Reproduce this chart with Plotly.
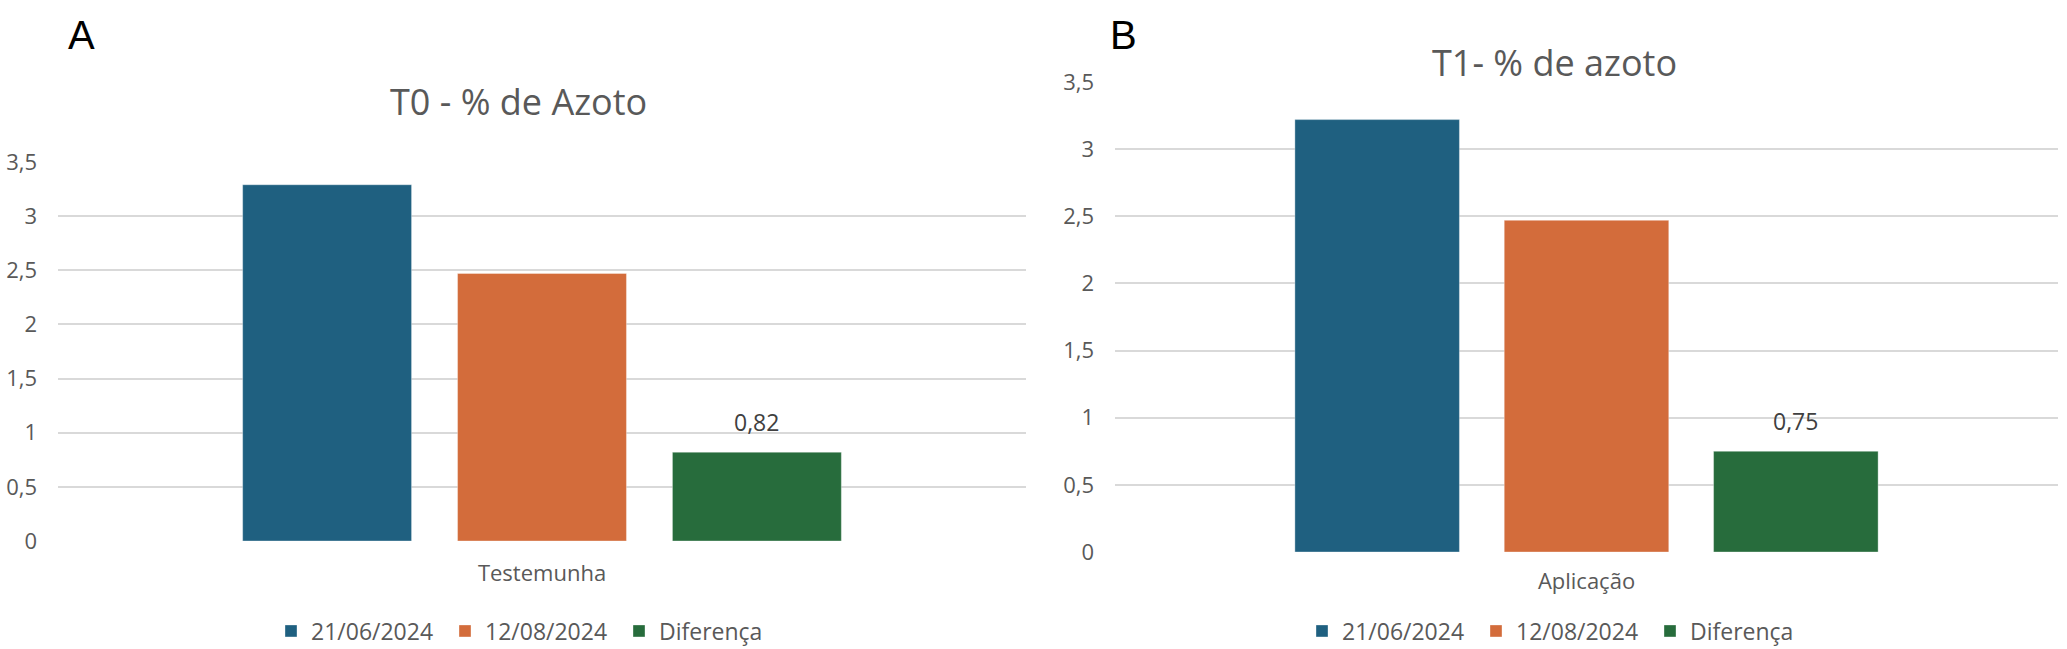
import plotly.graph_objects as go

# ---- data ----
series_names = ["21/06/2024", "12/08/2024", "Diferença"]
series_colors = ["#1F6080", "#D36C3B", "#276C3C"]

cat_a = ["Testemunha"]
values_a = [3.29, 2.47, 0.82]
title_a = "T0 - % de Azoto"

cat_b = ["Aplicação"]
values_b = [3.22, 2.47, 0.75]
title_b = "T1- % de azoto"

label_series = "Diferença"  # only this series carries a data label

W, H = 2067, 649
FONT = "Open Sans"
GRAY = "#595959"
BARGAP, BARGROUPGAP = 0.334, 0.214

# plot-area boxes (px) for the two panels
dom_a = dict(x0=58, x1=1026, y0=162, y1=541)
dom_b = dict(x0=1115, x1=2058, y0=82, y1=552)


def fmt(v):
    return f"{v:.2f}".replace(".", ",")


fig = go.Figure()
annotations = []

for cats, vals, xa, ya, leg, dom in [(cat_a, values_a, "x", "y", "legend", dom_a),
                                     (cat_b, values_b, "x2", "y2", "legend2", dom_b)]:
    n = len(series_names)
    slot_px = (dom["x1"] - dom["x0"]) * (1 - BARGAP) / n
    for i, (name, color, v) in enumerate(zip(series_names, series_colors, vals)):
        fig.add_trace(go.Bar(
            x=cats, y=[v], name=name,
            marker=dict(color=color, line=dict(width=1, color="rgba(255,255,255,0.35)")),
            xaxis=xa, yaxis=ya, legend=leg,
            cliponaxis=False, hoverinfo="skip",
        ))
        if name == label_series:
            annotations.append(dict(
                text=fmt(v), xref=xa, yref=ya, x=cats[0], y=v,
                xshift=(i - (n - 1) / 2) * slot_px, yshift=12,
                xanchor="center", yanchor="bottom", showarrow=False,
                font=dict(family=FONT, size=23, color="#404040")))

yax_common = dict(range=[0, 3.5], dtick=0.5, tick0=0, showgrid=True,
                  gridcolor="#D9D9D9", gridwidth=1.5, zeroline=False,
                  showline=False, ticks="", ticklabelstandoff=20,
                  tickfont=dict(family=FONT, size=22, color=GRAY),
                  automargin=False, fixedrange=True)
xax_common = dict(showgrid=False, zeroline=False, showline=False, ticks="",
                  tickfont=dict(family=FONT, size=22, color=GRAY),
                  automargin=False, fixedrange=True)


def xdom(d):
    return [d["x0"] / W, d["x1"] / W]


def ydom(d):
    return [1 - d["y1"] / H, 1 - d["y0"] / H]


legend_common = dict(orientation="h", xanchor="center", yanchor="middle",
                     y=1 - 631 / H, font=dict(family=FONT, size=23, color=GRAY),
                     entrywidth=129, entrywidthmode="pixels",
                     bgcolor="rgba(0,0,0,0)")

annotations += [
    dict(text=title_a, xref="paper", yref="paper", x=518 / W, y=1 - 101 / H,
         xanchor="center", yanchor="middle", showarrow=False,
         font=dict(family=FONT, size=36, color=GRAY)),
    dict(text=title_b, xref="paper", yref="paper", x=1554 / W, y=1 - 62 / H,
         xanchor="center", yanchor="middle", showarrow=False,
         font=dict(family=FONT, size=36, color=GRAY)),
    dict(text="A", xref="paper", yref="paper", x=66 / W, y=1 - 35 / H,
         xanchor="left", yanchor="middle", showarrow=False,
         font=dict(family="Liberation Sans", size=40, color="black")),
    dict(text="B", xref="paper", yref="paper", x=1108 / W, y=1 - 35 / H,
         xanchor="left", yanchor="middle", showarrow=False,
         font=dict(family="Liberation Sans", size=40, color="black")),
]

fig.update_layout(
    width=W, height=H,
    margin=dict(l=0, r=0, t=0, b=0, autoexpand=False),
    paper_bgcolor="white", plot_bgcolor="white",
    separators=",.",
    barmode="group", bargap=BARGAP, bargroupgap=BARGROUPGAP,
    font=dict(family=FONT, color=GRAY),
    xaxis=dict(domain=xdom(dom_a), anchor="y", ticklabelstandoff=17, **xax_common),
    yaxis=dict(domain=ydom(dom_a), anchor="x", **yax_common),
    xaxis2=dict(domain=xdom(dom_b), anchor="y2", ticklabelstandoff=14, **xax_common),
    yaxis2=dict(domain=ydom(dom_b), anchor="x2", **yax_common),
    legend=dict(x=532 / W, **legend_common),
    legend2=dict(x=1563 / W, **legend_common),
    annotations=annotations,
)

fig.write_html("out.html", config={"displayModeBar": False},
               post_script="document.body.style.margin='0';")
